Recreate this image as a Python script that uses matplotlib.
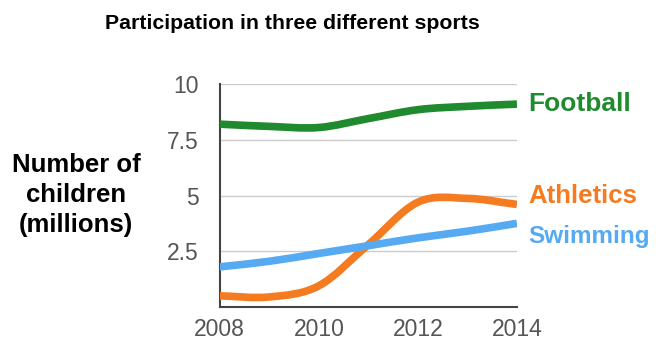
import numpy as np
import matplotlib.pyplot as plt
from matplotlib.path import Path
from matplotlib.patches import PathPatch

plt.rcParams["font.family"] = ["Liberation Sans", "DejaVu Sans"]

years = [2008, 2009, 2010, 2011, 2012, 2013, 2014]
football = [8.2, 8.1, 8.05, 8.45, 8.85, 9.0, 9.1]
athletics = [0.5, 0.45, 0.95, 2.8, 4.7, 4.87, 4.6]
swimming = [1.8, 2.05, 2.4, 2.75, 3.1, 3.4, 3.75]

series = [
    ("Football", football, "#1f8a2e"),
    ("Athletics", athletics, "#f47b20"),
    ("Swimming", swimming, "#55aaf2"),
]

y_ticks = [2.5, 5, 7.5, 10]
y_tick_labels = ["2.5", "5", "7.5", "10"]
x_ticks = [2008, 2010, 2012, 2014]


def smooth_path(xs, ys):
    """
    Builds a Catmull-Rom style bezier path through the data points.
    """
    pts = np.column_stack([xs, ys]).astype(float)
    n = len(pts)
    tangents = np.zeros_like(pts)
    tangents[0] = pts[1] - pts[0]
    tangents[-1] = pts[-1] - pts[-2]
    for i in range(1, n - 1):
        tangents[i] = (pts[i + 1] - pts[i - 1]) / 2

    verts = [pts[0]]
    codes = [Path.MOVETO]
    for i in range(n - 1):
        verts.append(pts[i] + tangents[i] / 3)
        verts.append(pts[i + 1] - tangents[i + 1] / 3)
        verts.append(pts[i + 1])
        codes += [Path.CURVE4] * 3
    return Path(verts, codes)


fig = plt.figure(figsize=(6.56, 3.43), dpi=100)
ax = fig.add_axes([0.335, 0.105, 0.453, 0.65])

for name, values, color in series:
    patch = PathPatch(smooth_path(years, values), facecolor="none",
                      edgecolor=color, lw=5.5, capstyle="butt",
                      joinstyle="round", zorder=3)
    ax.add_patch(patch)

ax.set_xlim(2008, 2014)
ax.set_ylim(0, 10)
ax.set_xticks(x_ticks)
ax.set_yticks(y_ticks)
ax.set_yticklabels(y_tick_labels)
ax.tick_params(length=0, labelsize=16.5, labelcolor="#555555")
ax.tick_params(axis="x", pad=8)
ax.tick_params(axis="y", pad=15)
ax.grid(axis="y", color="#cccccc", lw=1)
ax.set_axisbelow(True)

for side in ["top", "right"]:
    ax.spines[side].set_visible(False)
for side in ["left", "bottom"]:
    ax.spines[side].set_color("#444444")
    ax.spines[side].set_linewidth(1.5)

# series labels at the right end
label_y = {"Football": 9.1, "Athletics": 5.0, "Swimming": 3.17}
label_size = {"Football": 19, "Athletics": 18.5, "Swimming": 17.5}
for name, values, color in series:
    ax.text(1.037, label_y[name], name, transform=ax.get_yaxis_transform(),
            color=color, fontsize=label_size[name], fontweight="bold",
            va="center", ha="left", clip_on=False)

fig.text(0.116, 0.431, "Number of\nchildren\n(millions)", ha="center",
         va="center", fontsize=18.5, fontweight="bold", linespacing=1.32)

fig.text(0.446, 0.932, "Participation in three different sports",
         ha="center", va="center", fontsize=15.3, fontweight="bold")

fig.savefig("out.png", dpi=100)
